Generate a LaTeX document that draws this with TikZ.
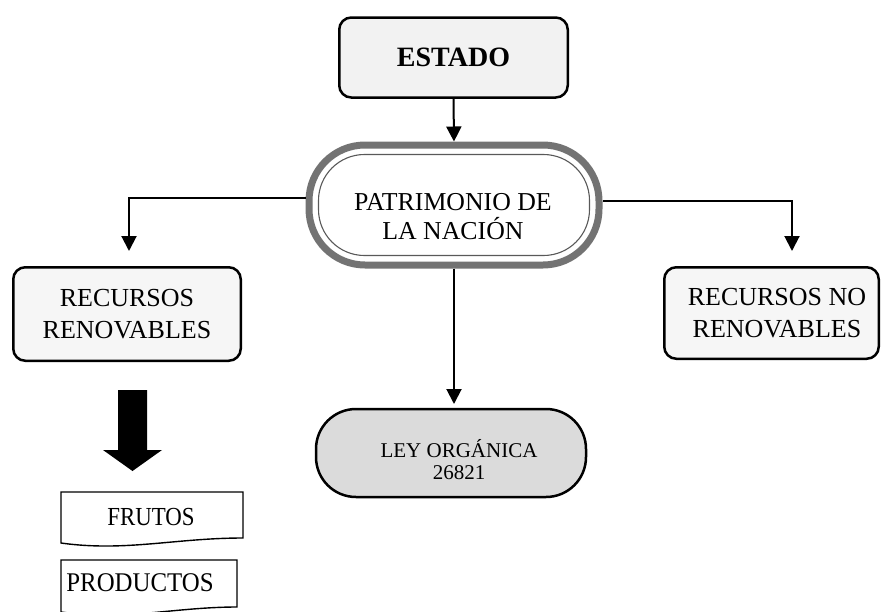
\documentclass[tikz,border=0pt]{standalone}
\usepackage{fontspec}
\setmainfont{Liberation Serif}
\usetikzlibrary{arrows.meta}
\tikzset{
  box/.style={draw, line width=2.5pt, rounded corners=12pt, fill=gray!10, inner sep=0pt, outer sep=0pt, align=center},
  conn/.style={line width=2pt, -{Triangle[width=15pt,length=15pt]}},
  txt/.style={align=center, inner sep=0pt},
  doc/.style={draw, line width=1.4pt, fill=white}
}
\begin{document}
\begin{tikzpicture}[x=1pt,y=-1pt]
\useasboundingbox (0,0) rectangle (881,611);
\clip (0,0) rectangle (881,611);
% ESTADO
\node[box, minimum width=228.5pt, minimum height=80pt] (estado) at (453.5,57.5) {\fontsize{28}{32}\selectfont\bfseries ESTADO};
% PATRIMONIO
\node[draw=black!55, line width=7pt, rounded corners=56pt, minimum width=290pt, minimum height=120pt, fill=white, outer sep=3.5pt] (pat) at (454,205) {};
\node[draw=black!65, line width=1.1pt, rounded corners=46pt, minimum width=271pt, minimum height=101pt, outer sep=0pt] (patin) at (454,205) {};
\node[txt, font=\fontsize{25.8}{29}\selectfont] (pattxt) at (453,217) {PATRIMONIO DE\\LA NACIÓN};
% Recursos
\node[box, fill=gray!7, minimum width=227.5pt, minimum height=93.5pt, font=\fontsize{26}{32}\selectfont] (recren) at (127,314) {RECURSOS\\RENOVABLES};
\node[box, fill=gray!7, minimum width=214.5pt, minimum height=91.5pt] (recno) at (771.5,313) {};
\node[txt, font=\fontsize{26}{32}\selectfont] (recnotxt) at (777,313) {RECURSOS NO\\RENOVABLES};
% LEY
\node[box, fill=gray!28, rounded corners=40pt, minimum width=270pt, minimum height=88pt] (ley) at (451,453) {};
\node[txt, font=\fontsize{21}{22}\selectfont] (leytxt) at (459,460) {LEY ORGÁNICA\\26821};
% connectors
\coordinate (ltip) at (129,251);
\coordinate (rtip) at (792,251);
\draw[conn] (estado.south) -- (pat.north);
\draw[conn] ([yshift=7pt]pat.west) -| (ltip);
\draw[conn] ([yshift=4pt]pat.east) -| (rtip);
\draw[conn, shorten >=5pt] (pat.south) -- (pat.south |- ley.north);
% big arrow
\fill (118,390) -- (147,390) -- (147,450) -- (162,450) -- (132.5,471) -- (103,450) -- (118,450) -- cycle;
% FRUTOS / PRODUCTOS
\draw[doc] (61,492) -- (243,492) -- (243,538) .. controls (175,538) and (125,552) .. (61,543) -- cycle;
\node[txt] (frutos) at (151,517) {\fontsize{26}{30}\selectfont\scalebox{0.88}[1]{FRUTOS}};
\draw[doc] (61,560) -- (237,560) -- (237,607) .. controls (175,607) and (125,621) .. (61,612) -- cycle;
\node[txt] (productos) at (140,583) {\fontsize{27}{30}\selectfont\scalebox{0.92}[1]{PRODUCTOS}};
\end{tikzpicture}
\end{document}
